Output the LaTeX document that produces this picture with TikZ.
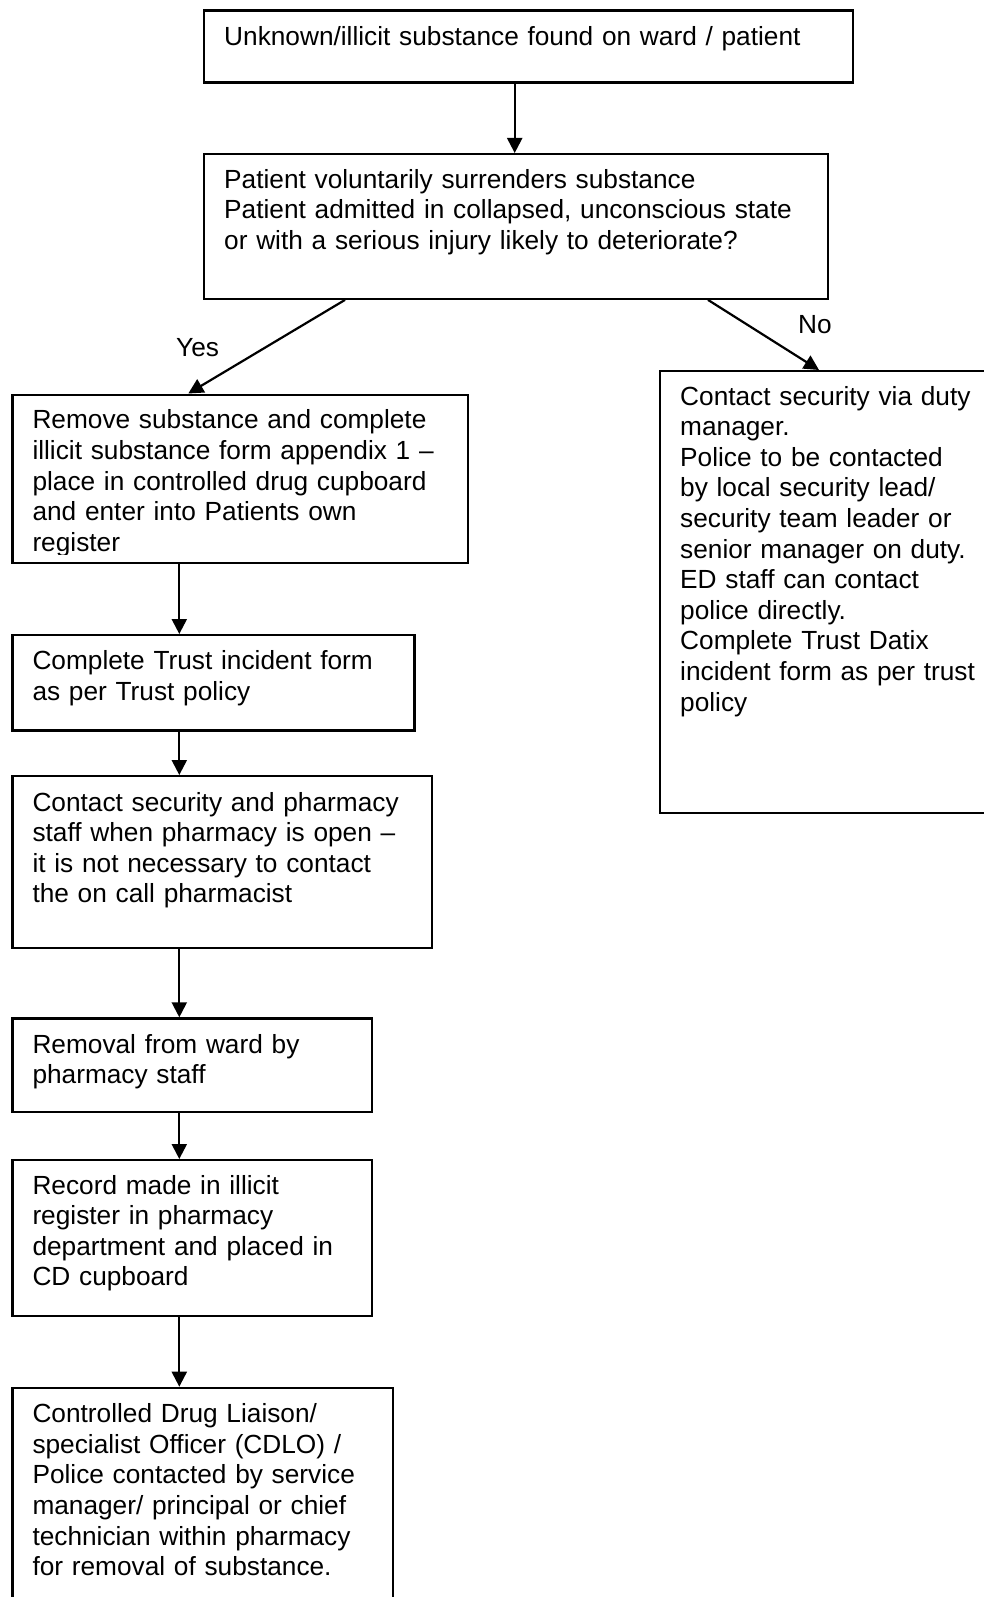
\documentclass[tikz,border=0pt]{standalone}
\usepackage{fontspec}
\setmainfont{Liberation Sans}
\usetikzlibrary{arrows.meta,calc}
\begin{document}
\begin{tikzpicture}[x=1pt,y=-1pt,
  box/.style={draw,line width=2.2pt,rectangle,inner sep=0pt,anchor=north west},
  txt/.style={anchor=base west,inner sep=0pt,text width=700pt,align=left,font=\fontsize{26.25}{30.6}\selectfont},
  arr/.style={line width=2.2pt,-{Triangle[length=15pt,width=15pt]}},
  lab/.style={anchor=base west,inner sep=0pt,font=\fontsize{26.25}{30.6}\selectfont}]
\clip (0,0) rectangle (984,1597);
% boxes
\node[box,minimum width=649pt,minimum height=72pt] (top) at (203,9.5) {};
\node[box,minimum width=624pt,minimum height=144.7pt] (dec) at (203,153) {};
\node[box,minimum width=455.7pt,minimum height=168.2pt] (A) at (11.3,393.5) {};
\node[box,minimum width=402pt,minimum height=95.3pt] (B) at (11.3,634) {};
\node[box,minimum width=419.7pt,minimum height=171.7pt] (C) at (11.3,775) {};
\node[box,minimum width=359.7pt,minimum height=93.4pt] (D) at (11.3,1017.3) {};
\node[box,minimum width=359.7pt,minimum height=155.7pt] (E) at (11.3,1159) {};
\node[box,minimum width=380.4pt,minimum height=240pt] (F) at (11.3,1386.7) {};
\node[box,minimum width=360pt,minimum height=442pt] (R) at (659,370) {};
% texts
\node[txt] (topt) at ($(top.north west)+(21,36)$) {Unknown/illicit substance found on ward / patient};
\node[txt] (dect) at ($(dec.north west)+(21,35.3)$) {Patient voluntarily surrenders substance\\Patient admitted in collapsed, unconscious state\\or with a serious injury likely to deteriorate?};
\begin{scope}
\clip (A.north west) rectangle ($(A.south east)+(0,-9.7)$);
\node[txt] (At) at ($(A.north west)+(21,35.3)$) {Remove substance and complete\\illicit substance form appendix 1 –\\place in controlled drug cupboard\\and enter into Patients own\\register};
\end{scope}
\node[txt] (Bt) at ($(B.north west)+(21,35.5)$) {Complete Trust incident form\\as per Trust policy};
\node[txt] (Ct) at ($(C.north west)+(21,36)$) {Contact security and pharmacy\\staff when pharmacy is open –\\it is not necessary to contact\\the on call pharmacist};
\node[txt] (Dt) at ($(D.north west)+(21,36)$) {Removal from ward by\\pharmacy staff};
\node[txt] (Et) at ($(E.north west)+(21,35)$) {Record made in illicit\\register in pharmacy\\department and placed in\\CD cupboard};
\node[txt] (Ft) at ($(F.north west)+(21,36)$) {Controlled Drug Liaison/\\specialist Officer (CDLO) /\\Police contacted by service\\manager/ principal or chief\\technician within pharmacy\\for removal of substance.};
\node[txt] (Rt) at ($(R.north west)+(21,35)$) {Contact security via duty\\manager.\\Police to be contacted\\by local security lead/\\security team leader or\\senior manager on duty.\\ED staff can contact\\police directly.\\Complete Trust Datix\\incident form as per trust\\policy};
% connector x positions
\coordinate (cx) at (514.7,0);
\coordinate (lx) at (179.3,0);
\coordinate (yx1) at (345,0);
\coordinate (yx2) at (188.3,0);
\coordinate (nx1) at (708,0);
\coordinate (nx2) at (819,0);
% connectors
\draw[arr] (top.south -| cx) -- (dec.north -| cx);
\draw[arr] (dec.south -| yx1) -- (A.north -| yx2);
\draw[arr] (dec.south -| nx1) -- (R.north -| nx2);
\draw[arr] (A.south -| lx) -- (B.north -| lx);
\draw[arr] (B.south -| lx) -- (C.north -| lx);
\draw[arr] (C.south -| lx) -- (D.north -| lx);
\draw[arr] (D.south -| lx) -- (E.north -| lx);
\draw[arr] (E.south -| lx) -- (F.north -| lx);
% labels
\node[lab] (yes) at (176,356.7) {Yes};
\node[lab] (no) at (798,333) {No};
\end{tikzpicture}
\end{document}
